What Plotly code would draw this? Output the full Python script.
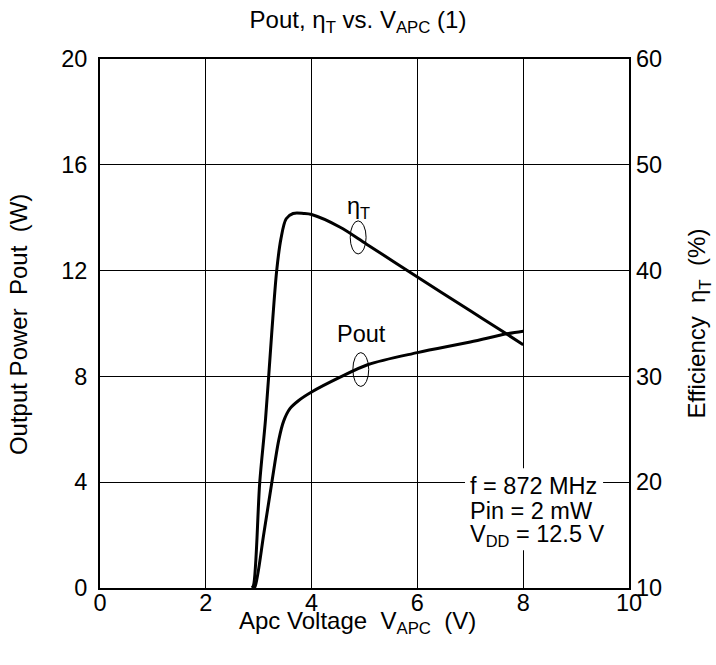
import plotly.graph_objects as go

# Data
vapc_eta = [2.87, 2.90, 3.02, 3.13, 3.245, 3.34, 3.42, 3.52, 3.65, 3.85, 4.0, 4.54, 5.04, 6.0, 7.0, 7.69, 8.0]
eta = [10.0, 10.2, 20.0, 26.0, 34.0, 40.0, 43.0, 44.9, 45.4, 45.4, 45.3, 44.1, 42.5, 39.4, 36.2, 34.0, 33.0]

vapc_pout = [2.90, 2.93, 3.10, 3.245, 3.38, 3.47, 3.59, 3.75, 4.0, 4.54, 5.07, 6.0, 7.0, 7.69, 8.0]
pout = [0.0, 0.05, 2.1, 3.95, 5.6, 6.3, 6.78, 7.08, 7.41, 7.97, 8.45, 8.9, 9.3, 9.61, 9.71]

x_ticks = [0, 2, 4, 6, 8, 10]
y_ticks = [0, 4, 8, 12, 16, 20]
y2_ticks = [10, 20, 30, 40, 50, 60]

cond_lines = ["f = 872 MHz", "Pin = 2 mW", "V<sub>DD</sub> = 12.5 V"]

FONT = "Liberation Sans, Arial, sans-serif"
FS = 23.5
TFS = 24
NB = "\u00a0"

fig = go.Figure()
fig.add_trace(go.Scatter(x=vapc_eta, y=eta, yaxis="y2", mode="lines",
                         line=dict(color="black", width=3, shape="spline", smoothing=0.9),
                         showlegend=False, hoverinfo="skip"))
fig.add_trace(go.Scatter(x=vapc_pout, y=pout, mode="lines",
                         line=dict(color="black", width=3, shape="spline", smoothing=0.9),
                         showlegend=False, hoverinfo="skip"))

annotations = [
    dict(text="η<sub>T</sub>", x=4.88, y=14.39, xref="x", yref="y", showarrow=False,
         font=dict(size=FS)),
    dict(text="Pout", x=4.95, y=9.62, xref="x", yref="y", showarrow=False,
         font=dict(size=FS)),
    # axis titles
    dict(text=f"Apc Voltage{NB} V<sub>APC</sub>{NB} (V)", x=0.486, y=-0.0643,
         xref="paper", yref="paper", xanchor="center", yanchor="middle",
         showarrow=False, font=dict(size=TFS)),
    dict(text=f"Output Power{NB} Pout{NB} (W)", x=-0.155, y=0.497, textangle=-90,
         xref="paper", yref="paper", xanchor="center", yanchor="middle",
         showarrow=False, font=dict(size=TFS)),
    dict(text=f"Efficiency{NB} η<sub>T</sub>{NB} (%)", x=1.1323, y=0.5, textangle=-90,
         xref="paper", yref="paper", xanchor="center", yanchor="middle",
         showarrow=False, font=dict(size=TFS)),
]
for line, yv in zip(cond_lines, [3.86, 2.92, 1.98]):
    annotations.append(dict(text=line, x=6.96, y=yv, xref="x", yref="y", xanchor="left",
                            yanchor="middle", align="left", showarrow=False,
                            font=dict(size=FS)))

fig.update_layout(
    width=716, height=665,
    margin=dict(l=100, r=87, t=59, b=77),
    paper_bgcolor="white", plot_bgcolor="white",
    font=dict(family=FONT, size=FS, color="black"),
    title=dict(text="Pout, η<sub>T</sub> vs. V<sub>APC</sub> (1)", x=0.5, xanchor="center",
               xref="container", y=0.971, yanchor="middle", font=dict(size=TFS)),
    xaxis=dict(range=[0, 10], tickvals=x_ticks, showgrid=True, gridcolor="black", gridwidth=1,
               showline=True, linecolor="black", linewidth=2, mirror=True, ticks="",
               zeroline=False, tickfont=dict(size=FS), ticklabelstandoff=-7),
    yaxis=dict(range=[0, 20], tickvals=y_ticks, showgrid=True, gridcolor="black", gridwidth=1,
               showline=True, linecolor="black", linewidth=2, mirror=True, ticks="",
               zeroline=False, tickfont=dict(size=FS), ticklabelstandoff=6),
    yaxis2=dict(range=[10, 60], tickvals=y2_ticks, overlaying="y", side="right", showgrid=False,
                showline=False, ticks="", zeroline=False, tickfont=dict(size=FS),
                ticklabelstandoff=6),
    shapes=[
        dict(type="rect", xref="x", yref="y", x0=6.90, x1=9.51, y0=1.43, y1=4.53,
             fillcolor="white", line=dict(width=0), layer="above"),
        dict(type="circle", xref="x", yref="y", x0=4.73, x1=5.03, y0=12.63, y1=13.88,
             line=dict(color="black", width=1)),
        dict(type="circle", xref="x", yref="y", x0=4.78, x1=5.08, y0=7.62, y1=8.90,
             line=dict(color="black", width=1)),
    ],
    annotations=annotations,
)

fig.write_html("out.html")
